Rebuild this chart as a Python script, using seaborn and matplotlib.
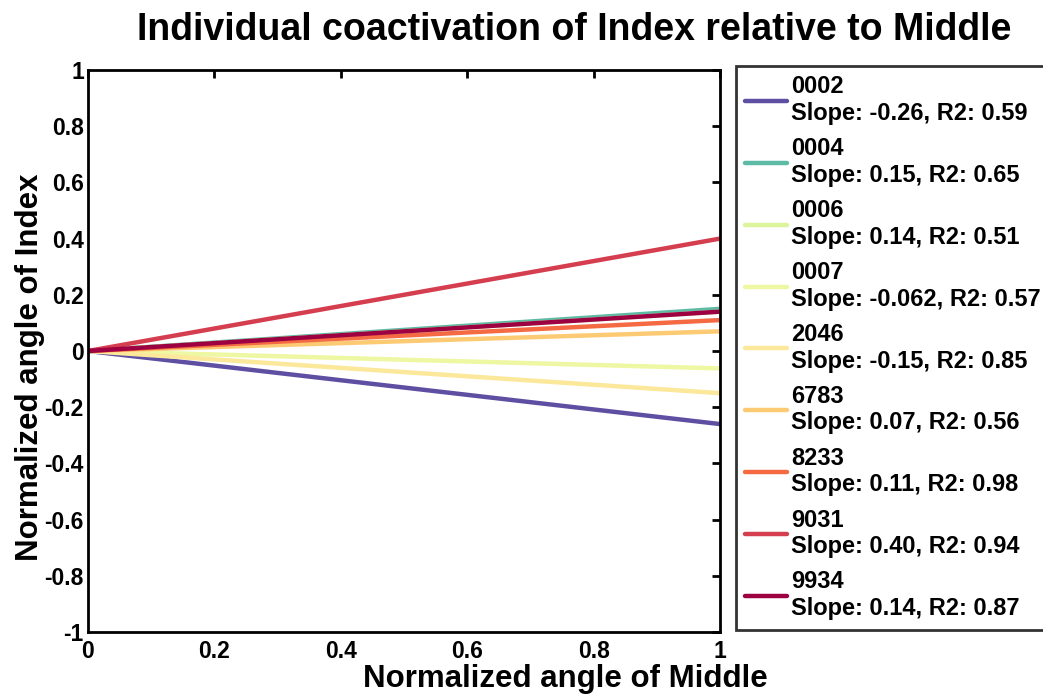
import numpy as np
import pandas as pd
import matplotlib
matplotlib.use("Agg")
import matplotlib.pyplot as plt
import seaborn as sns

# Per-subject fitted coactivation lines (Index vs Middle)
subjects = ["0002", "0004", "0006", "0007", "2046", "6783", "8233", "9031", "9934"]
slopes = [-0.26, 0.15, 0.14, -0.062, -0.15, 0.07, 0.11, 0.40, 0.14]
slope_text = ["-0.26", "0.15", "0.14", "-0.062", "-0.15", "0.07", "0.11", "0.40", "0.14"]
r2_text = ["0.59", "0.65", "0.51", "0.57", "0.85", "0.56", "0.98", "0.94", "0.87"]
colors = ["#5e4fa2", "#5cbaa5", "#dcf59c", "#eef7a2", "#fbe89b",
          "#fdca74", "#f46a43", "#d53e4f", "#9e0142"]
x_ends = [0.0, 1.0]

labels = [f"{s}\nSlope: {st}, R2: {r}" for s, st, r in zip(subjects, slope_text, r2_text)]

rows = []
for lab, m in zip(labels, slopes):
    for xv in x_ends:
        rows.append({"middle": xv, "index": m * xv, "subject": lab})
df = pd.DataFrame(rows)

sns.set_style("white")
plt.rcParams["font.family"] = ["Liberation Sans", "DejaVu Sans"]
plt.rcParams["font.weight"] = "bold"
plt.rcParams["text.color"] = "black"
plt.rcParams["xtick.color"] = "black"
plt.rcParams["ytick.color"] = "black"
plt.rcParams["axes.labelcolor"] = "black"

fig = plt.figure(figsize=(10.43, 6.95), dpi=100)
ax = fig.add_axes([88 / 1043, 63 / 695, 632 / 1043, 562 / 695])

sns.lineplot(data=df, x="middle", y="index", hue="subject",
             palette=dict(zip(labels, colors)), hue_order=labels,
             linewidth=3.2, ax=ax, legend=True)

ax.set_xlim(0, 1)
ax.set_ylim(-1, 1)
ax.set_xticks(np.arange(0, 1.01, 0.2))
ax.set_xticklabels(["0", "0.2", "0.4", "0.6", "0.8", "1"])
ax.set_yticks(np.arange(-1, 1.01, 0.2))
ax.set_yticklabels(["-1", "-0.8", "-0.6", "-0.4", "-0.2", "0",
                    "0.2", "0.4", "0.6", "0.8", "1"])
ax.tick_params(direction="in", length=6, width=2, top=True, right=True,
               labelsize=16.5)
ax.tick_params(axis="y", pad=3)
ax.tick_params(axis="x", pad=6)
for lab in ax.get_xticklabels() + ax.get_yticklabels():
    lab.set_fontweight("bold")
for sp in ax.spines.values():
    sp.set_visible(True)
    sp.set_linewidth(2)
    sp.set_color("black")

ax.set_xlabel("")
ax.set_ylabel("")
fig.text(30 / 1043, 1 - 367 / 695, "Normalized angle of Index", rotation=90,
         ha="center", va="center", fontsize=22.5, fontweight="bold")
fig.text(565 / 1043, 1 - 687 / 695, "Normalized angle of Middle",
         ha="center", va="baseline", fontsize=22.5, fontweight="bold")
fig.text(574 / 1043, 1 - 30 / 695, "Individual coactivation of Index relative to Middle",
         ha="center", va="center", fontsize=27, fontweight="bold")

handles, leg_labels = ax.get_legend_handles_labels()
ax.get_legend().remove()
leg = fig.legend(handles, leg_labels, loc="upper left",
                 bbox_to_anchor=(736 / 1043, 1 - 66 / 695),
                 bbox_transform=fig.transFigure,
                 prop={"size": 17, "weight": "bold"},
                 frameon=True, fancybox=False, edgecolor="black",
                 handlelength=1.75, handletextpad=0.2, labelspacing=0.52,
                 borderpad=0.4, borderaxespad=0)
leg.get_frame().set_linewidth(2)
for t in leg.get_texts():
    t.set_linespacing(1.2)
for h in leg.legend_handles:
    h.set_linewidth(3.2)

fig.savefig("out.png", dpi=100)
